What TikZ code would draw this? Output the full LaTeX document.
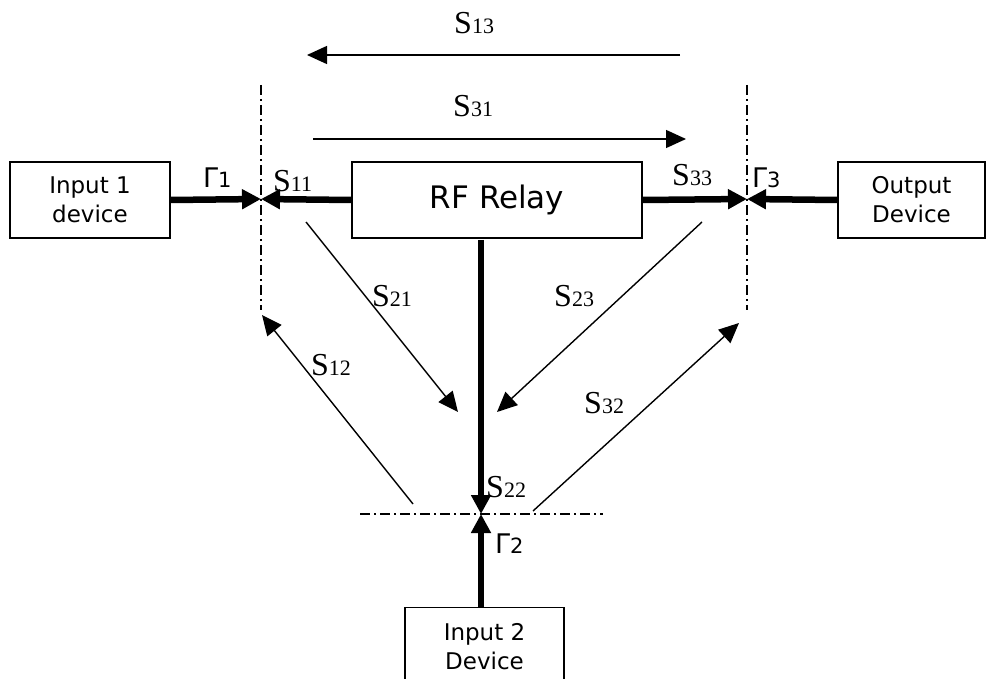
\documentclass[tikz,border=0pt]{standalone}
\usepackage{fontspec}
\setmainfont{Liberation Serif}
\newfontfamily\sansf{DejaVu Sans}
\usetikzlibrary{arrows.meta}
\newcommand{\Slab}[1]{{\fontsize{32}{32}\selectfont S}{\fontsize{22}{22}\selectfont #1}}
\newcommand{\Glab}[1]{{\sansf\fontsize{27}{27}\selectfont\char"0393{\fontsize{21}{21}\selectfont #1}}}
\begin{document}
\begin{tikzpicture}[x=1pt,y=-1pt,
  boxnode/.style={draw,line width=1.4pt,rectangle,inner sep=0pt,align=center,font=\sansf\fontsize{23}{29}\selectfont},
  thickarrow/.style={line width=6.5pt,-{Triangle[length=19pt,width=19pt]}},
  thinarrow/.style={line width=1.4pt,-{Triangle[length=20pt,width=18pt]}},
  dashdot/.style={line width=1.2pt,dash pattern=on 10pt off 4pt on 2pt off 4pt},
  lab/.style={inner sep=0pt,anchor=base west}]
\clip (0,0) rectangle (986,679);
\useasboundingbox (0,0) rectangle (986,679);
% boxes
\node[boxnode,minimum width=160pt,minimum height=76pt] (in1) at (90,200) {Input 1\\device};
\node[boxnode,minimum width=290pt,minimum height=76pt,font=\sansf\fontsize{31}{31}\selectfont] (rf) at (497,200) {RF Relay};
\node[boxnode,minimum width=147pt,minimum height=76pt] (out) at (911.5,200) {Output\\Device};
\node[boxnode,minimum width=159pt,minimum height=90pt,anchor=north] (in2) at (484.5,607) {};
\node[inner sep=0pt,font=\sansf\fontsize{23}{29}\selectfont,align=center] (in2t) at (484.5,647) {Input 2\\Device};
% junction points
\coordinate (p1) at (261,199);
\coordinate (p3) at (747,199);
\coordinate (p2) at (481,514);
\coordinate (c2top) at (481,240);
% reference planes
\coordinate (l1a) at (261,85); \coordinate (l1b) at (261,310);
\coordinate (l3a) at (747,85); \coordinate (l3b) at (747,310);
\coordinate (l2a) at (360,514); \coordinate (l2b) at (603,514);
\draw[dashdot] (l1a) -- (l1b);
\draw[dashdot] (l3a) -- (l3b);
\draw[dashdot] (l2a) -- (l2b);
% thick arrows
\draw[thickarrow] (in1.east) -- (p1);
\draw[thickarrow] (rf.west) -- (p1);
\draw[thickarrow] (rf.east) -- (p3);
\draw[thickarrow] (out.west) -- (p3);
\draw[thickarrow] (c2top) -- (p2);
\draw[thickarrow] (p2 |- in2.north) -- (p2);
% thin arrows
\coordinate (s13a) at (680,55); \coordinate (s13b) at (307,55);
\coordinate (s31a) at (313,139); \coordinate (s31b) at (686,139);
\coordinate (s21a) at (306,222); \coordinate (s21b) at (458,412);
\coordinate (s23a) at (702,222); \coordinate (s23b) at (497,412);
\coordinate (s12a) at (413,504); \coordinate (s12b) at (262,315);
\coordinate (s32a) at (533,511); \coordinate (s32b) at (739,323);
\draw[thinarrow] (s13a) -- (s13b);
\draw[thinarrow] (s31a) -- (s31b);
\draw[thinarrow] (s21a) -- (s21b);
\draw[thinarrow] (s23a) -- (s23b);
\draw[thinarrow] (s12a) -- (s12b);
\draw[thinarrow] (s32a) -- (s32b);
% labels
\node[lab] (L13) at (454,34) {\Slab{13}};
\node[lab] (L31) at (453,117) {\Slab{31}};
\node[lab] (L11) at (273,192) {\Slab{11}};
\node[lab] (L33) at (672,186) {\Slab{33}};
\node[lab] (L21) at (372,306) {\Slab{21}};
\node[lab] (L23) at (554,307) {\Slab{23}};
\node[lab] (L12) at (311,375) {\Slab{12}};
\node[lab] (L32) at (584,413) {\Slab{32}};
\node[lab] (L22) at (486,497) {\Slab{22}};
\node[lab] (G1) at (203,188) {\Glab{1}};
\node[lab] (G3) at (752,188) {\Glab{3}};
\node[lab] (G2) at (495,553) {\Glab{2}};
\end{tikzpicture}
\end{document}
